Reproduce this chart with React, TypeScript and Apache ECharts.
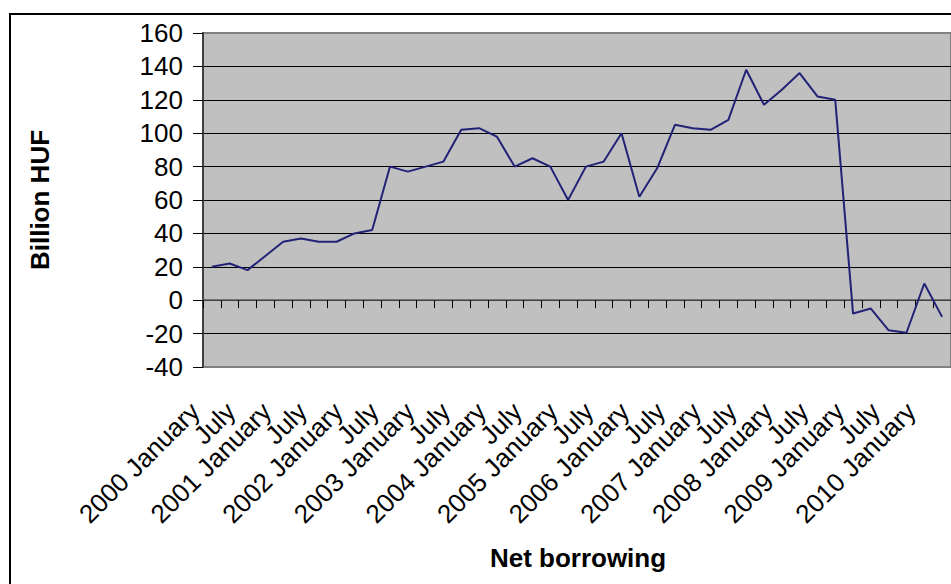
import React, { useEffect, useRef } from "react";
import * as echarts from "echarts";

const years = ["2000", "2001", "2002", "2003", "2004", "2005", "2006", "2007", "2008", "2009", "2010"];
const quarterMonths = ["January", "April", "July", "October"];
const hiddenMonths = ["April", "October"];

// Quarterly net borrowing, billion HUF (2000 Q1 – 2010 Q2)
const netBorrowing = [
  20, 22, 18, 26.5, 35, 37, 35, 35, 40, 42,
  80, 77, 80, 83, 102, 103, 98, 80, 85, 80,
  60, 80, 83, 100, 62, 79, 105, 103, 102, 108,
  138, 117, 126, 136, 122, 120, -8, -5, -18, -19.5,
  10, -10,
];

const categories: string[] = [];
years.forEach((y) => {
  quarterMonths.forEach((m, i) => {
    if (categories.length < netBorrowing.length) {
      categories.push(i === 0 ? `${y} ${m}` : m);
    }
  });
});

const yTicks = { min: -40, max: 160, interval: 20 };
const yTitle = "Billion HUF";
const xTitle = "Net borrowing";

const FONT = '"Liberation Sans", Arial, sans-serif';

export default function App() {
  const ref = useRef<HTMLDivElement>(null);
  useEffect(() => {
    if (!ref.current) return;
    const chart = echarts.init(ref.current, undefined, { renderer: "svg" });
    const splitColors = Array.from({ length: 11 }, (_, i) => (i === 0 || i === 10 ? "#808080" : "#000000"));
    chart.setOption({
      animation: false,
      backgroundColor: "#ffffff",
      textStyle: { fontFamily: FONT },
      grid: [
        {
          left: 203,
          top: 33,
          width: 752,
          bottom: 217,
          show: true,
          backgroundColor: "#c0c0c0",
          borderColor: "#808080",
          borderWidth: 2,
        },
        // label-only grid, shifted left so the rotated labels sit like the original's
        { left: 186, top: 33, width: 752, bottom: 217, show: false },
      ],
      xAxis: [
        {
          type: "category",
          gridIndex: 0,
          data: categories,
          boundaryGap: true,
          position: "bottom",
          axisLine: { show: true, onZero: true, onZeroAxisIndex: 0, lineStyle: { color: "#5a5a5a", width: 1.5 } },
          axisTick: { show: true, interval: 0, inside: false, length: 8, lineStyle: { color: "#000000", width: 1 } },
          axisLabel: { show: false },
          splitLine: { show: false },
        },
        {
          type: "category",
          gridIndex: 1,
          data: categories,
          boundaryGap: true,
          position: "bottom",
          axisLine: { show: false, onZero: false },
          axisTick: { show: false },
          axisLabel: {
            interval: 0,
            rotate: 45,
            margin: 40,
            fontSize: 26,
            color: "#000000",
            fontFamily: FONT,
            formatter: (v: string) => (hiddenMonths.includes(v) ? "" : v),
          },
          splitLine: { show: false },
        },
      ],
      yAxis: [
        {
          type: "value",
          gridIndex: 0,
          min: yTicks.min,
          max: yTicks.max,
          interval: yTicks.interval,
          axisLine: { show: true, lineStyle: { color: "#404040", width: 2 } },
          axisTick: { show: true, inside: false, length: 10, lineStyle: { color: "#000000", width: 1 } },
          axisLabel: { margin: 20, fontSize: 26, color: "#000000", fontFamily: FONT },
          splitLine: { show: true, lineStyle: { color: splitColors, width: 1 } },
        },
        {
          type: "value",
          gridIndex: 1,
          min: yTicks.min,
          max: yTicks.max,
          interval: yTicks.interval,
          show: false,
        },
      ],
      series: [
        {
          type: "line",
          data: netBorrowing,
          xAxisIndex: 0,
          yAxisIndex: 0,
          symbol: "none",
          lineStyle: { color: "#222277", width: 2 },
          z: 5,
        },
      ],
      graphic: [
        {
          type: "rect",
          z: 100,
          shape: { x: 10, y: 14, width: 960, height: 600 },
          style: { fill: "none", stroke: "#000000", lineWidth: 2 },
          silent: true,
        },
        {
          type: "text",
          x: 40,
          y: 200,
          rotation: Math.PI / 2,
          style: {
            text: yTitle,
            fontSize: 26,
            fontWeight: "bold",
            fontFamily: FONT,
            fill: "#000000",
            align: "center",
            verticalAlign: "middle",
          },
        },
        {
          type: "text",
          x: 578,
          y: 558,
          style: {
            text: xTitle,
            fontSize: 26,
            fontWeight: "bold",
            fontFamily: FONT,
            fill: "#000000",
            align: "center",
            verticalAlign: "middle",
          },
        },
      ],
    });
    return () => chart.dispose();
  }, []);
  return (
    <div
      ref={ref}
      style={{ position: "fixed", left: 0, top: 0, width: 951, height: 584 }}
    />
  );
}
